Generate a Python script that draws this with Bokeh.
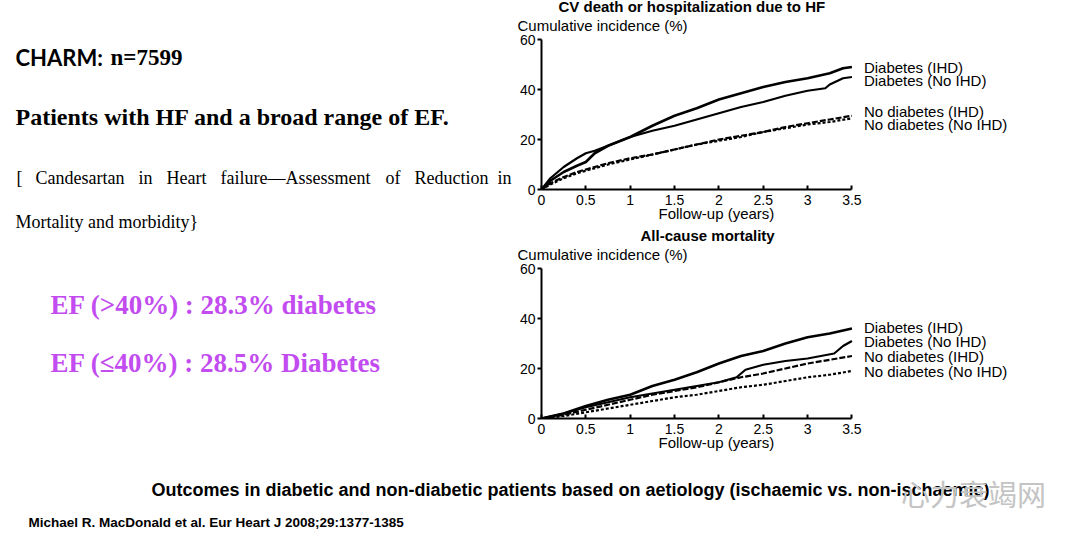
from bokeh.plotting import figure
from bokeh.models import Label, Range1d, FixedTicker, CustomJSTickFormatter, Title
from bokeh.layouts import column, row
from bokeh.embed import file_html
from bokeh.resources import INLINE

# ---------------- data ----------------
x_ticks = [0, 0.5, 1, 1.5, 2, 2.5, 3, 3.5]
y_ticks = [0, 20, 40, 60]
series_names = ["Diabetes (IHD)", "Diabetes (No IHD)", "No diabetes (IHD)", "No diabetes (No IHD)"]

# CV death or hospitalization due to HF
cv_t_diab_ihd = [0, 0.1, 0.25, 0.4, 0.5, 0.6, 0.75, 1, 1.25, 1.5, 1.75, 2, 2.25, 2.5, 2.75, 3, 3.25, 3.4, 3.5]
cv_diab_ihd = [0, 3.5, 7, 9.5, 11, 14.5, 17.5, 21, 25.5, 29.5, 32.5, 36, 38.5, 41, 43, 44.5, 46.5, 48.5, 49]
cv_t_diab_noihd = [0, 0.1, 0.25, 0.4, 0.5, 0.6, 0.75, 1, 1.25, 1.5, 1.75, 2, 2.25, 2.5, 2.75, 3, 3.2, 3.25, 3.4, 3.5]
cv_diab_noihd = [0, 4.5, 9, 12.5, 14.5, 15.5, 17.5, 21, 23.5, 25.5, 28, 30.5, 33, 35, 37.5, 39.5, 40.5, 42, 44.5, 45]
cv_t_nodiab = [0, 0.1, 0.25, 0.4, 0.5, 0.75, 1, 1.25, 1.5, 1.75, 2, 2.25, 2.5, 2.75, 3, 3.25, 3.5]
cv_nodiab_ihd = [0, 2.5, 5, 7, 8, 10.5, 12.5, 14, 16, 18, 20, 21.5, 23, 25, 26.5, 28, 29.5]
cv_nodiab_noihd = [0, 2, 4.5, 6.5, 7.5, 10, 12, 14, 16, 18, 19.5, 21, 23, 24.5, 26, 27, 28.5]

# All-cause mortality
m_t = [0, 0.25, 0.5, 0.75, 1, 1.25, 1.5, 1.75, 2, 2.25, 2.5, 2.75, 3, 3.25, 3.5]
m_diab_ihd = [0, 2, 5, 7.5, 9.5, 13, 15.5, 18.5, 22, 25, 27, 30, 32.5, 34, 36]
m_t_diab_noihd = [0, 0.25, 0.5, 0.75, 1, 1.25, 1.5, 1.75, 2, 2.2, 2.3, 2.5, 2.75, 3, 3.3, 3.4, 3.5]
m_diab_noihd = [0, 2, 4.5, 6.5, 8.5, 10, 11.5, 13, 14.5, 16.5, 19.5, 21.5, 23, 24, 26, 29, 31]
m_nodiab_ihd = [0, 1.5, 3.5, 5.5, 7.5, 9.5, 11, 12.5, 14.5, 16.5, 18, 20, 22, 23.5, 25]
m_nodiab_noihd = [0, 1, 2.5, 4, 5.5, 7, 8.5, 9.5, 11, 12.5, 13.5, 15, 16.5, 17.5, 19]

# texts
title_cv = "CV death or hospitalization due to HF"
title_mort = "All-cause mortality"
y_title = "Cumulative incidence (%)"
x_title = "Follow-up (years)"
heading1a = "CHARM:"
heading1b = "n=7599"
heading2 = "Patients with HF and a broad range of EF."
para_words = ["[", "Candesartan", "in", "Heart", "failure\u2014Assessment", "of", "Reduction", "in"]
para_line2 = "Mortality and morbidity}"
ef_lines = ["EF (>40%) : 28.3% diabetes", "EF (\u226440%) : 28.5% Diabetes"]
caption = "Outcomes in diabetic and non-diabetic patients based on aetiology (ischaemic vs. non-ischaemic)"
citation = "Michael R. MacDonald et al. Eur Heart J 2008;29:1377-1385"
watermark = "\u5fc3\u529b\u8870\u7aed\u7f51"

# ---------------- style / layout ----------------
SANS = "Liberation Sans"
SERIF = "Liberation Serif"
PURPLE = "#c24cf0"

line_styles = [
    dict(line_width=2.6, line_dash="solid"),
    dict(line_width=2.2, line_dash="solid"),
    dict(line_width=2.2, line_dash="6 2"),
    dict(line_width=2.2, line_dash="3 2"),
]

PAGE_W = 1080
LEFT_W = 516           # width of the left text block
FX0, FW = 540, 311     # page x of value 0 and width of 0..3.5
FH = 150               # height of 0..60
CH = 230               # height of one chart figure


def make_chart(fig_top, frame_top, title, title_x, series, label_page_y):
    bt = frame_top - fig_top
    bb = CH - bt - FH
    x_end = 3.5 * (PAGE_W - FX0) / FW
    p = figure(width=PAGE_W - LEFT_W, height=CH, title=None,
               x_range=Range1d(0, x_end), y_range=Range1d(0, 60),
               output_backend="svg", toolbar_location=None,
               min_border_left=FX0 - LEFT_W, min_border_right=0,
               min_border_top=bt, min_border_bottom=bb)
    p.outline_line_color = None
    p.grid.visible = False
    p.background_fill_color = "white"
    p.border_fill_color = "white"
    frame_bottom = frame_top + FH

    def dx(px):
        return (px - FX0) * 3.5 / FW

    def dy(py):
        return (frame_bottom - py) * 60.0 / FH

    for (tx, vals), st in zip(series, line_styles):
        p.line(tx, vals, line_color="black", **st)

    for ax in (p.xaxis, p.yaxis):
        ax.axis_line_width = 2
        ax.axis_line_color = "black"
        ax.major_tick_line_width = 2
        ax.major_tick_line_color = "black"
        ax.minor_tick_line_color = None
        ax.major_label_text_font = SANS
        ax.major_label_text_font_size = "14px"
        ax.major_label_text_color = "black"
    p.xaxis.bounds = (0, 3.5)
    p.xaxis.ticker = FixedTicker(ticks=x_ticks)
    p.xaxis.formatter = CustomJSTickFormatter(code="return String(tick)")
    p.xaxis.major_tick_in = 4
    p.xaxis.major_tick_out = 0
    p.xaxis.major_label_standoff = 5
    p.yaxis.bounds = (0, 60)
    p.yaxis.ticker = FixedTicker(ticks=y_ticks)
    p.yaxis.major_tick_in = 0
    p.yaxis.major_tick_out = 4
    p.yaxis.major_label_standoff = 2

    p.add_layout(Title(text=y_title, align="left", offset=516 - FX0, standoff=12,
                       text_font=SANS, text_font_size="15px", text_font_style="normal",
                       text_color="black"), "above")
    p.add_layout(Title(text=title, align="left", offset=title_x - FX0, standoff=-12,
                       text_font=SANS, text_font_size="15px", text_font_style="bold",
                       text_color="black"), "above")
    p.add_layout(Title(text=x_title, align="left", offset=657 - FX0, standoff=-6,
                       vertical_align="top",
                       text_font=SANS, text_font_size="15px", text_font_style="normal",
                       text_color="black"), "below")
    for name, py in zip(series_names, label_page_y):
        p.add_layout(Label(x=dx(863), y=dy(py), text=name, text_font=SANS,
                           text_font_size="15px", text_align="left", text_baseline="middle",
                           text_color="black"))
    return p


p_cv = make_chart(0, 39, title_cv, 557,
                  [(cv_t_diab_ihd, cv_diab_ihd), (cv_t_diab_noihd, cv_diab_noihd),
                   (cv_t_nodiab, cv_nodiab_ihd), (cv_t_nodiab, cv_nodiab_noihd)],
                  [67, 80, 111, 124])
p_mort = make_chart(CH, 268, title_mort, 639,
                    [(m_t, m_diab_ihd), (m_t_diab_noihd, m_diab_noihd),
                     (m_t, m_nodiab_ihd), (m_t, m_nodiab_noihd)],
                    [327, 341, 356, 371])


def text_canvas(w, h, x0, y0):
    p = figure(width=w, height=h, x_range=Range1d(x0, x0 + w), y_range=Range1d(y0 + h, y0),
               output_backend="svg", toolbar_location=None, title=None,
               x_axis_location=None, y_axis_location=None,
               min_border=0, min_border_left=0, min_border_right=0,
               min_border_top=0, min_border_bottom=0)
    p.outline_line_color = None
    p.grid.visible = False
    p.background_fill_color = "white"
    p.border_fill_color = "white"
    return p


def put(p, x, y, text, font, size, bold=False, color="black", align="left"):
    p.add_layout(Label(x=x, y=y, text=text, text_font=font, text_font_size=size,
                       text_font_style="bold" if bold else "normal", text_color=color,
                       text_align=align, text_baseline="middle"))


left = text_canvas(LEFT_W, 2 * CH, 0, 0)
put(left, 15, 57, heading1a, "Lato", "22px", bold=True)
put(left, 110, 57, heading1b, SERIF, "23px", bold=True)
put(left, 15, 116, heading2, SERIF, "24px", bold=True)
word_x = [16, 35, 138, 166, 220, 385, 414, 497]
for wd, wx in zip(para_words, word_x):
    put(left, wx, 177, wd, SERIF, "18px")
put(left, 15, 221, para_line2, SERIF, "18px")
for txt, yy in zip(ef_lines, [304, 362]):
    put(left, 50, yy, txt, SERIF, "27px", bold=True, color=PURPLE)

bottom = text_canvas(PAGE_W, 539 - 2 * CH, 0, 2 * CH)
put(bottom, 570, 489, caption, SANS, "18px", bold=True, align="center")
put(bottom, 973, 492, watermark, "Noto Sans CJK SC", "29px", color="#c4c4c4", align="center")
put(bottom, 28, 522, citation, SANS, "13.5px", bold=True)

layout = column(row(left, column(p_cv, p_mort)), bottom)

open("out.html", "w").write(file_html(layout, INLINE))
